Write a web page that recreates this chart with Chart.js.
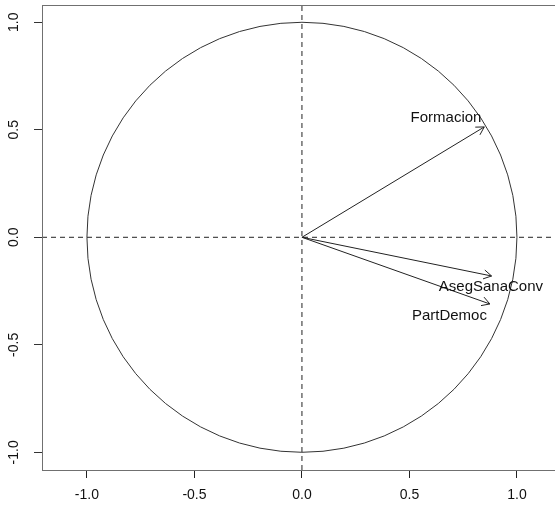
<!DOCTYPE html>
<html>
<head>
<meta charset="utf-8">
<script src="https://cdn.jsdelivr.net/npm/chart.js@4"></script>
<style>
  html, body { margin: 0; padding: 0; background: #fff; }
  #wrap { width: 555px; height: 509px; overflow: hidden; }
  #wrap canvas { display: block; }
</style>
</head>
<body>
<div id="wrap"><canvas id="c" width="555" height="509"></canvas></div>
<script>
// variables (correlation with dim 1 / dim 2)
const variables = ['Formacion', 'AsegSanaConv', 'PartDemoc'];
const dim1 = [0.848, 0.882, 0.874];
const dim2 = [0.513, -0.180, -0.310];
// where the names sit
const labelX = [0.670, 0.879, 0.686];
const labelY = [0.554, -0.231, -0.366];
const tickValues = [-1.0, -0.5, 0.0, 0.5, 1.0];
// the right edge of the R plot box is cut off by the picture
const xLimits = [-1.209, 1.177];
const yLimits = [-1.082, 1.080];

const axisGrey = '#707070';
const family = 'Liberation Sans, Arial, sans-serif';
const tickFont = { family, size: 14 };
const nameFont = '15px ' + family;

const arrowSets = variables.map((v, i) => ({
  label: v,
  data: [{ x: 0, y: 0 }, { x: dim1[i], y: dim2[i] }],
  borderColor: '#222',
  borderWidth: 1,
  pointRadius: 0,
  showLine: true
}));

const dashed = [
  { label: 'h0', data: [{ x: xLimits[0], y: 0 }, { x: xLimits[1], y: 0 }] },
  { label: 'v0', data: [{ x: 0, y: yLimits[0] }, { x: 0, y: yLimits[1] }] }
].map(d => Object.assign(d, {
  borderColor: '#222', borderWidth: 1, borderDash: [5, 4], pointRadius: 0, showLine: true
}));

const circlePlugin = {
  id: 'circle',
  beforeDatasetsDraw(chart) {
    const { ctx, scales: { x, y } } = chart;
    const cx = x.getPixelForValue(0), cy = y.getPixelForValue(0);
    const r = x.getPixelForValue(1) - cx;
    ctx.save();
    ctx.strokeStyle = '#333';
    ctx.lineWidth = 1;
    ctx.beginPath();
    ctx.arc(cx, cy, r, 0, Math.PI * 2);
    ctx.stroke();
    ctx.restore();
  }
};

const arrowPlugin = {
  id: 'arrows',
  afterDatasetsDraw(chart) {
    const { ctx, scales: { x, y }, chartArea } = chart;
    ctx.save();
    ctx.strokeStyle = '#222';
    ctx.lineWidth = 1;
    variables.forEach((v, i) => {
      const x0 = x.getPixelForValue(0), y0 = y.getPixelForValue(0);
      const x1 = x.getPixelForValue(dim1[i]), y1 = y.getPixelForValue(dim2[i]);
      const a = Math.atan2(y1 - y0, x1 - x0);
      const len = 9, spread = Math.PI / 6;
      ctx.beginPath();
      ctx.moveTo(x1 - len * Math.cos(a - spread), y1 - len * Math.sin(a - spread));
      ctx.lineTo(x1, y1);
      ctx.lineTo(x1 - len * Math.cos(a + spread), y1 - len * Math.sin(a + spread));
      ctx.stroke();
    });
    // names
    ctx.fillStyle = '#111';
    ctx.font = nameFont;
    ctx.textAlign = 'center';
    ctx.textBaseline = 'middle';
    variables.forEach((v, i) => {
      ctx.fillText(v, x.getPixelForValue(labelX[i]), y.getPixelForValue(labelY[i]));
    });
    // box
    ctx.strokeStyle = axisGrey;
    ctx.strokeRect(chartArea.left + 0.5, chartArea.top + 0.5,
      chartArea.right - chartArea.left, chartArea.bottom - chartArea.top);
    ctx.restore();
  }
};

const noPad = s => { s.paddingTop = 0; s.paddingBottom = 0; s.paddingLeft = 0; s.paddingRight = 0; };

new Chart(document.getElementById('c'), {
  type: 'scatter',
  data: { datasets: [...dashed, ...arrowSets] },
  options: {
    responsive: false,
    animation: false,
    layout: { padding: { top: 5, right: 0, left: 0, bottom: 0 } },
    plugins: { legend: { display: false }, tooltip: { enabled: false } },
    scales: {
      x: {
        type: 'linear',
        min: xLimits[0], max: xLimits[1],
        afterBuildTicks: s => { s.ticks = tickValues.map(v => ({ value: v })); },
        afterFit: s => { s.height = 39; noPad(s); },
        grid: { drawOnChartArea: false, tickLength: 8, color: '#222' },
        border: { display: false },
        ticks: { color: '#111', font: tickFont, padding: 9, maxRotation: 0, callback: v => v.toFixed(1) }
      },
      y: {
        type: 'linear',
        min: yLimits[0], max: yLimits[1],
        afterBuildTicks: s => { s.ticks = tickValues.map(v => ({ value: v })); },
        afterFit: s => { s.width = 42; noPad(s); },
        grid: { drawOnChartArea: false, tickLength: 8, color: '#333' },
        border: { display: false },
        ticks: { color: '#111', font: tickFont, padding: 8, crossAlign: 'center',
                 minRotation: 90, maxRotation: 90, callback: v => v.toFixed(1) }
      }
    }
  },
  plugins: [circlePlugin, arrowPlugin]
});
</script>
</body>
</html>
